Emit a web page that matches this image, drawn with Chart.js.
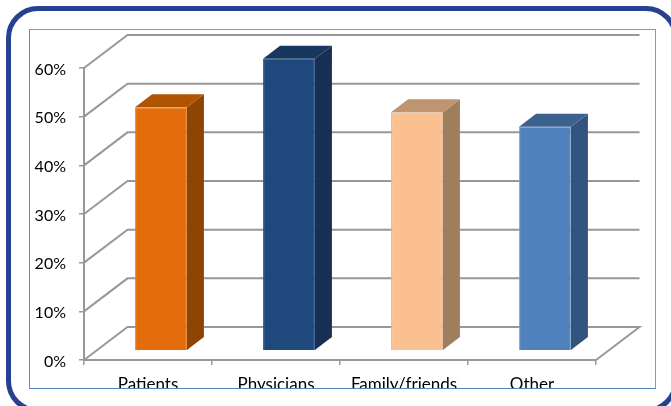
<!DOCTYPE html>
<html>
<head>
<meta charset="utf-8">
<script src="https://cdn.jsdelivr.net/npm/chart.js@4/dist/chart.umd.min.js"></script>
<style>
    html, body { margin: 0; padding: 0; background: #fff; overflow: hidden; }
    #page { position: relative; width: 671px; height: 406px; overflow: hidden; }
    #frame { position: absolute; left: 6px; top: 6px; width: 662px; height: 397px; border: 5px solid #27408f; border-radius: 32px; }
    #box { position: absolute; left: 29px; top: 29px; width: 625px; height: 358px; border: 1.5px solid #7a9cc0; border-bottom-color: #5585bd; border-left-color: #6590bd; overflow: hidden; background: #fff; }
    #chart { position: absolute; left: 0; top: 0; }
</style>
</head>
<body>
<div id="page">
    <div id="frame"></div>
    <div id="box"><canvas id="chart" width="625" height="358"></canvas></div>
</div>
<script>
const categories = ['Patients', 'Physicians', 'Family/friends', 'Other'];
const values = [50, 60, 49, 46];
const yTicks = [0, 10, 20, 30, 40, 50, 60];

const frontColors = ['#e46c0a', '#1f497d', '#fac090', '#4f81bd'];
const edgeColors = ['#e27f30', '#264f82', '#d8b79a', '#7f9dc0'];
const topColors = ['#b05404', '#17375e', '#bf9470', '#3b618e'];
const sideColors = ['#8e4503', '#162f52', '#a07d5c', '#31557f'];

const textColor = '#000';
const gridColor = '#989898';
const fontFamily = 'Lato, Carlito, sans-serif';

// 3d look: back wall offset and how far the bars sit from the front edge
const wallDx = 43.5, wallDy = -33;
const barShiftX = 13, barShiftY = -9.3;
const barDepthX = 17, barDepthY = -13;

const poly = (ctx, pts, fill) => {
    ctx.beginPath();
    pts.forEach((p, i) => i ? ctx.lineTo(p[0], p[1]) : ctx.moveTo(p[0], p[1]));
    ctx.closePath();
    ctx.fillStyle = fill;
    ctx.fill();
};

const box3d = {
    id: 'box3d',
    beforeDatasetsDraw(chart) {
        const { ctx, scales: { x, y } } = chart;
        ctx.save();
        ctx.strokeStyle = gridColor;
        ctx.lineWidth = 2;
        yTicks.forEach(v => {
            const py = y.getPixelForValue(v);
            ctx.beginPath();
            ctx.moveTo(x.left, py);
            ctx.lineTo(x.left + wallDx, py + wallDy);
            ctx.lineTo(x.right + wallDx, py + wallDy);
            if (v === 0) ctx.lineTo(x.right, py);
            ctx.stroke();
        });
        ctx.restore();

        ctx.save();
        ctx.translate(barShiftX, barShiftY);
        chart.getDatasetMeta(0).data.forEach((bar, i) => {
            const l = bar.x - bar.width / 2, r = bar.x + bar.width / 2;
            poly(ctx, [[r, bar.y], [r + barDepthX, bar.y + barDepthY], [r + barDepthX, bar.base + barDepthY], [r, bar.base]], sideColors[i]);
            poly(ctx, [[l, bar.y], [l + barDepthX, bar.y + barDepthY], [r + barDepthX, bar.y + barDepthY], [r, bar.y]], topColors[i]);
        });
    },
    afterDatasetsDraw(chart) {
        chart.ctx.restore();
    }
};

new Chart(document.getElementById('chart'), {
    type: 'bar',
    data: {
        labels: categories,
        datasets: [{
            data: values,
            backgroundColor: frontColors,
            borderColor: edgeColors,
            borderWidth: 1,
            barPercentage: 1,
            categoryPercentage: 0.405
        }]
    },
    plugins: [box3d],
    options: {
        responsive: false,
        animation: false,
        layout: { padding: { top: 38, right: 59, left: 0, bottom: 0 } },
        plugins: { legend: { display: false }, tooltip: { enabled: false } },
        scales: {
            x: {
                afterFit: s => { s.height = 28; },
                grid: { drawOnChartArea: false, color: gridColor, lineWidth: 1.5, tickLength: 5, offset: true },
                border: { color: gridColor, width: 2 },
                ticks: { color: textColor, padding: 9, maxRotation: 0, font: { family: fontFamily, size: 17 } }
            },
            y: {
                min: 0,
                max: 60,
                afterFit: s => { s.width = 54; },
                grid: { drawOnChartArea: false, color: gridColor, lineWidth: 1.5, tickLength: 5 },
                border: { color: gridColor, width: 2 },
                ticks: { color: textColor, padding: 13, labelOffset: 1.5, stepSize: 10, callback: v => v + '%', font: { family: fontFamily, size: 16 } }
            }
        }
    }
});
</script>
</body>
</html>
